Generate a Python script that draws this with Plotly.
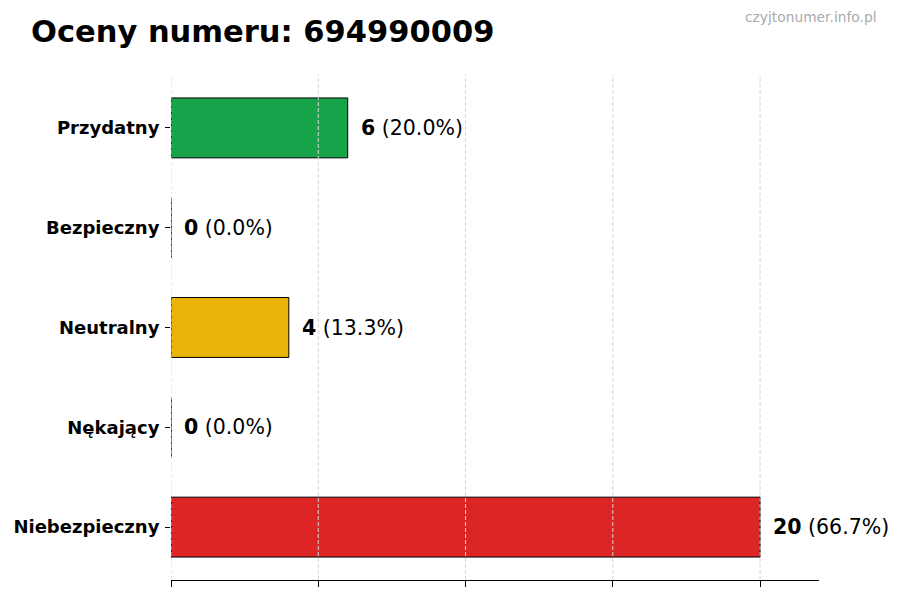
import plotly.graph_objects as go

categories = ["Przydatny", "Bezpieczny", "Neutralny", "Nękający", "Niebezpieczny"]
counts = [6, 0, 4, 0, 20]
colors = ["#16a34a", "#9ca3af", "#eab308", "#f97316", "#dc2626"]
grid_vals = [0, 5, 10, 15, 20]
title_text = "Oceny numeru: 694990009"
watermark = "czyjtonumer.info.pl"

total = sum(counts)
FONT = "DejaVu Sans"

# the page has an 8px body margin: the figure is sized to fit the window
W, H = 892, 592
ML, MR, MT, MB = 163, 81, 67, 20
PW, PH = W - ML - MR, H - MT - MB

fig = go.Figure()
fig.add_trace(go.Bar(
    y=categories, x=counts, orientation="h",
    marker=dict(color=colors, line=dict(color="black", width=1)),
    width=0.6, hoverinfo="skip",
))

for c, v in zip(categories, counts):
    pct = 100.0 * v / total if total else 0
    fig.add_annotation(
        x=v, y=c, xref="x", yref="y",
        text=f"<b>{v}</b> ({pct:.1f}%)",
        showarrow=False, xanchor="left", yanchor="middle",
        xshift=11, font=dict(family=FONT, size=20.5, color="black"),
    )

for g in grid_vals:
    fig.add_shape(
        type="line", xref="x", yref="paper", x0=g, x1=g, y0=0, y1=1,
        line=dict(color="#d6d6d6", width=1, dash="4px,2px"), layer="above",
    )

fig.update_layout(
    width=W, height=H,
    margin=dict(l=ML, r=MR, t=MT, b=MB, autoexpand=False),
    paper_bgcolor="white", plot_bgcolor="white",
    showlegend=False,
    title=dict(text=f"<b>{title_text}</b>", x=23/W, xanchor="left",
               y=1-23/H, yanchor="middle",
               font=dict(family=FONT, size=30.5, color="black")),
    xaxis=dict(range=[0, 22], showgrid=False, zeroline=False,
               showline=True, linecolor="black", linewidth=1,
               ticks="outside", ticklen=6, tickcolor="black",
               tickvals=grid_vals, showticklabels=False, fixedrange=True,
               automargin=False),
    yaxis=dict(categoryorder="array", categoryarray=categories,
               autorange=False, range=[4.53, -0.53],
               showgrid=False, zeroline=False, showline=False,
               ticks="outside", ticklen=5, tickcolor="black",
               tickvals=categories,
               ticktext=[f"<b>{c}</b>" for c in categories],
               tickfont=dict(family=FONT, size=18, color="black"),
               ticklabelstandoff=2, automargin=False),
)

fig.add_annotation(
    x=(871 - ML) / PW, y=1 + (MT - 9) / PH, xref="paper", yref="paper",
    xanchor="right", yanchor="middle", text=watermark, showarrow=False,
    font=dict(family=FONT, size=13.8, color="#aaaaaa"),
)

fig.write_html("out.html")
